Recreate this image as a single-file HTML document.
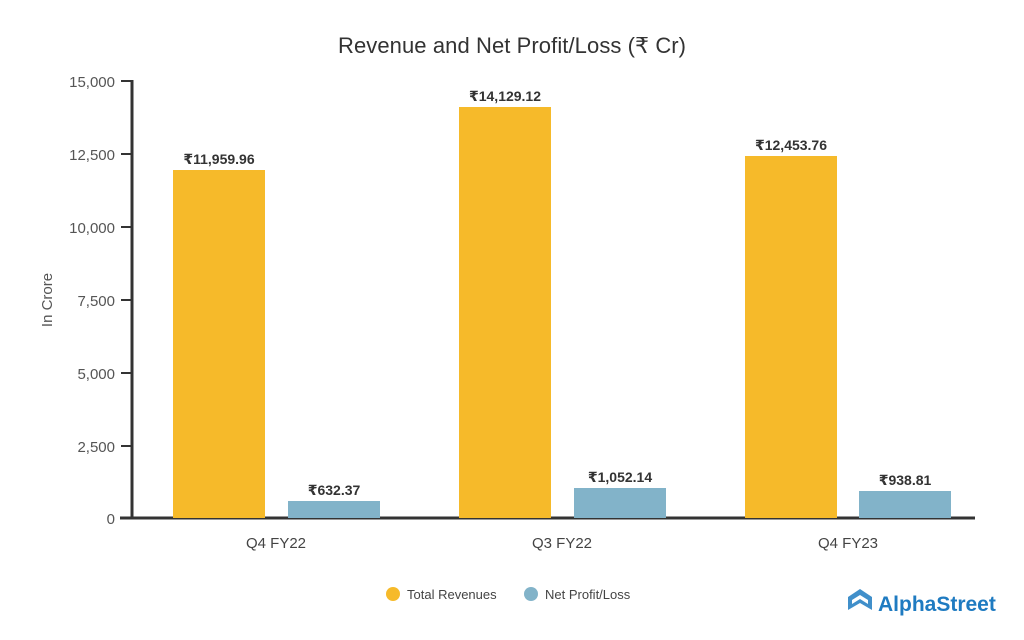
<!DOCTYPE html>
<html><head><meta charset="utf-8"><style>
body{margin:0;background:#fff;}
svg{display:block;font-family:"Liberation Sans","DejaVu Sans",sans-serif;}
</style></head><body>
<svg width="1024" height="640" viewBox="0 0 1024 640" xmlns="http://www.w3.org/2000/svg">
<rect width="1024" height="640" fill="#fff"/>
<text x="338" y="53" textLength="348" font-size="22" fill="#333">Revenue and Net Profit/Loss (₹ Cr)</text>
<g font-size="15" fill="#555" text-anchor="end">
<text x="115" y="87">15,000</text>
<text x="115" y="160">12,500</text>
<text x="115" y="233">10,000</text>
<text x="115" y="306">7,500</text>
<text x="115" y="379">5,000</text>
<text x="115" y="452">2,500</text>
<text x="115" y="524">0</text>
</g>
<g stroke="#333" stroke-width="2">
<line x1="121" y1="81" x2="132" y2="81"/><line x1="121" y1="154" x2="132" y2="154"/>
<line x1="121" y1="227" x2="132" y2="227"/><line x1="121" y1="300" x2="132" y2="300"/>
<line x1="121" y1="373" x2="132" y2="373"/><line x1="121" y1="446" x2="132" y2="446"/>
</g>
<line x1="132" y1="80" x2="132" y2="519" stroke="#333" stroke-width="3"/>
<line x1="120" y1="518" x2="975" y2="518" stroke="#333" stroke-width="3"/>
<text transform="translate(52,300) rotate(-90)" text-anchor="middle" font-size="15" fill="#555">In Crore</text>
<g fill="#F6BA2A">
<rect x="173" y="170" width="92" height="348"/>
<rect x="459" y="107" width="92" height="411"/>
<rect x="745" y="156" width="92" height="362"/>
</g>
<g fill="#82B3C9">
<rect x="288" y="501" width="92" height="17"/>
<rect x="574" y="488" width="92" height="30"/>
<rect x="859" y="491" width="92" height="27"/>
</g>
<g font-size="14" font-weight="bold" fill="#333" text-anchor="middle">
<text x="219" y="164">₹11,959.96</text>
<text x="505" y="101">₹14,129.12</text>
<text x="791" y="150">₹12,453.76</text>
<text x="334" y="495">₹632.37</text>
<text x="620" y="482">₹1,052.14</text>
<text x="905" y="485">₹938.81</text>
</g>
<g font-size="15" fill="#444" text-anchor="middle">
<text x="276" y="548">Q4 FY22</text>
<text x="562" y="548">Q3 FY22</text>
<text x="848" y="548">Q4 FY23</text>
</g>
<circle cx="393" cy="594" r="7" fill="#F6BA2A"/>
<text x="407" y="599" font-size="13" fill="#444">Total Revenues</text>
<circle cx="531" cy="594" r="7" fill="#82B3C9"/>
<text x="545" y="599" font-size="13" fill="#444">Net Profit/Loss</text>
<g fill="#1F7BC1">
<path d="M848 597 L860 589 L872 597 L872 610 L860 603 L848 610 Z" opacity="0.85"/>
<path d="M852 600 L860 595 L868 600 L868 604 L860 599 L852 604 Z" fill="#fff"/>
<text x="878" y="611" font-size="21" font-weight="bold">AlphaStreet</text>
</g>
</svg>
</body></html>
